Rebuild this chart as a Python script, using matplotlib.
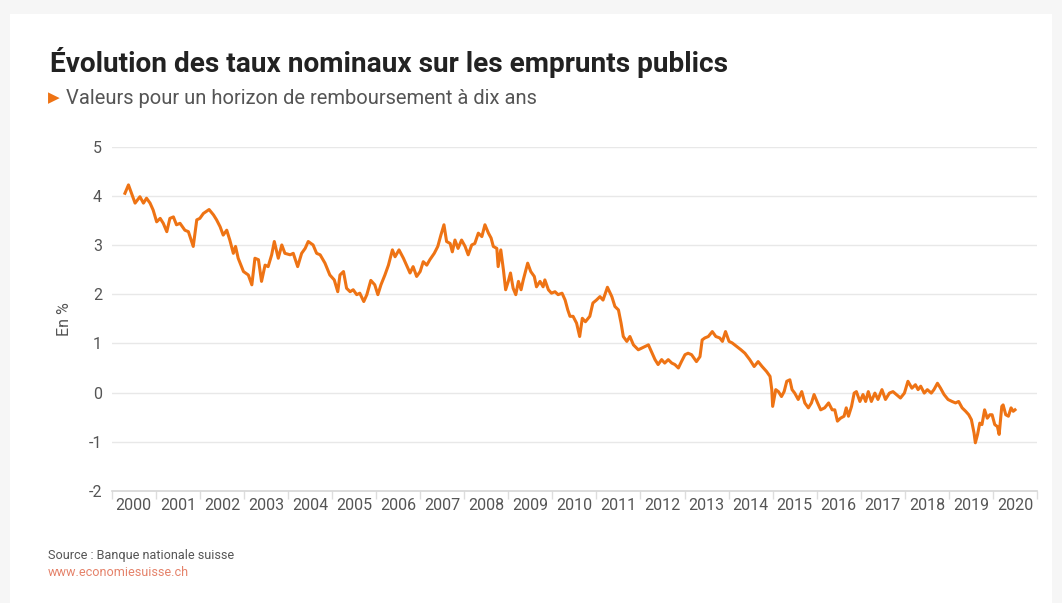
import numpy as np
import matplotlib.pyplot as plt
from matplotlib.patches import Rectangle

# taux à dix ans (lecture approximative du graphique), année décimale / %
annees = [2000.30, 2000.38, 2000.45, 2000.53, 2000.64, 2000.72, 2000.79, 2000.87, 2000.94,
          2001.02, 2001.10, 2001.17, 2001.25, 2001.32, 2001.40, 2001.47, 2001.55, 2001.66,
          2001.74, 2001.85, 2001.93, 2002.00, 2002.08, 2002.21, 2002.31, 2002.38, 2002.46,
          2002.53, 2002.61, 2002.68, 2002.76, 2002.81, 2002.87, 2002.99, 2003.10, 2003.18,
          2003.25, 2003.33, 2003.40, 2003.48, 2003.55, 2003.63, 2003.69, 2003.78, 2003.86,
          2003.93, 2004.05, 2004.12,
          2004.22, 2004.31, 2004.39, 2004.46, 2004.57, 2004.65, 2004.73, 2004.84, 2004.95,
          2005.05, 2005.13, 2005.18, 2005.26, 2005.33, 2005.41, 2005.48, 2005.56, 2005.63,
          2005.72, 2005.79, 2005.88, 2005.97, 2006.04, 2006.11, 2006.20, 2006.28, 2006.37,
          2006.43, 2006.52, 2006.62, 2006.69, 2006.77, 2006.84, 2006.92, 2007.00, 2007.07,
          2007.15, 2007.22, 2007.32, 2007.40, 2007.47, 2007.54, 2007.60, 2007.68, 2007.73,
          2007.79, 2007.86, 2007.94, 2008.02, 2008.09, 2008.17, 2008.24,
          2008.32, 2008.40, 2008.47, 2008.55, 2008.61, 2008.66, 2008.74, 2008.77, 2008.83,
          2008.89, 2008.94, 2009.00, 2009.05, 2009.11, 2009.17, 2009.23, 2009.29, 2009.34,
          2009.39, 2009.44, 2009.51, 2009.59, 2009.64, 2009.72, 2009.79, 2009.83, 2009.91,
          2009.98, 2010.06, 2010.13, 2010.22, 2010.29, 2010.35, 2010.40, 2010.47, 2010.55,
          2010.62, 2010.68, 2010.75, 2010.85, 2010.92, 2011.00, 2011.08, 2011.15, 2011.25,
          2011.35, 2011.42, 2011.50, 2011.56, 2011.61, 2011.69, 2011.76, 2011.84, 2011.95,
          2012.18,
          2012.33, 2012.40, 2012.48, 2012.55, 2012.63, 2012.71, 2012.78, 2012.86, 2012.93,
          2013.01, 2013.08, 2013.16, 2013.27, 2013.35, 2013.40, 2013.46, 2013.54, 2013.63,
          2013.71, 2013.80, 2013.86, 2013.93, 2014.01, 2014.08, 2014.18, 2014.28, 2014.37,
          2014.48, 2014.58, 2014.67, 2014.76, 2014.86, 2014.94, 2014.98, 2015.00, 2015.07,
          2015.13, 2015.20, 2015.26, 2015.32, 2015.39, 2015.44, 2015.50, 2015.58, 2015.66,
          2015.73, 2015.81, 2015.88, 2015.94, 2016.02, 2016.09, 2016.18, 2016.27, 2016.35,
          2016.41,
          2016.47, 2016.54, 2016.62, 2016.67, 2016.72, 2016.79, 2016.85, 2016.90, 2016.98,
          2017.05, 2017.11, 2017.17, 2017.24, 2017.32, 2017.39, 2017.48, 2017.56, 2017.65,
          2017.73, 2017.81, 2017.90, 2017.99, 2018.07, 2018.16, 2018.24, 2018.30, 2018.36,
          2018.44, 2018.51, 2018.60, 2018.66, 2018.74, 2018.81, 2018.89, 2018.98, 2019.07,
          2019.15, 2019.22, 2019.30, 2019.38, 2019.45, 2019.51, 2019.57, 2019.60, 2019.65,
          2019.70, 2019.75, 2019.81, 2019.87, 2019.93, 2019.98, 2020.04, 2020.10, 2020.14,
          2020.20, 2020.23, 2020.29, 2020.35, 2020.41, 2020.46, 2020.50]

taux = [4.05, 4.22, 4.05, 3.85, 3.98, 3.85, 3.95, 3.85, 3.71,
        3.47, 3.54, 3.44, 3.27, 3.54, 3.57, 3.41, 3.44, 3.30,
        3.27, 2.97, 3.51, 3.54, 3.64, 3.72, 3.61, 3.51, 3.37,
        3.20, 3.30, 3.10, 2.83, 2.97, 2.73, 2.46, 2.39, 2.19,
        2.73, 2.70, 2.26, 2.59, 2.56, 2.80, 3.07, 2.73, 3.00,
        2.83, 2.80, 2.83,
        2.56, 2.83, 2.93, 3.07, 3.00, 2.83, 2.80, 2.63, 2.39,
        2.29, 2.05, 2.39, 2.46, 2.12, 2.05, 2.09, 1.99, 2.02,
        1.85, 1.99, 2.28, 2.19, 1.99, 2.19, 2.39, 2.59, 2.90,
        2.76, 2.90, 2.73, 2.59, 2.43, 2.56, 2.36, 2.46, 2.66,
        2.59, 2.70, 2.83, 2.97, 3.20, 3.41, 3.07, 3.03, 2.86,
        3.10, 2.93, 3.10, 2.97, 2.80, 3.00, 3.03,
        3.24, 3.17, 3.41, 3.24, 3.14, 2.97, 2.93, 2.56, 2.90,
        2.49, 2.09, 2.26, 2.43, 2.12, 1.99, 2.26, 2.09, 2.29,
        2.46, 2.63, 2.46, 2.36, 2.15, 2.26, 2.15, 2.29, 2.09,
        2.02, 2.05, 1.99, 2.02, 1.88, 1.68, 1.55, 1.55, 1.41,
        1.14, 1.51, 1.44, 1.55, 1.82, 1.88, 1.95, 1.88, 2.14,
        1.95, 1.75, 1.68, 1.41, 1.14, 1.04, 1.14, 0.97, 0.87,
        0.97,
        0.67, 0.57, 0.67, 0.60, 0.67, 0.60, 0.57, 0.50, 0.63,
        0.77, 0.80, 0.77, 0.63, 0.73, 1.07, 1.11, 1.14, 1.24,
        1.14, 1.11, 1.04, 1.24, 1.04, 1.01, 0.94, 0.87, 0.80,
        0.67, 0.53, 0.63, 0.53, 0.43, 0.33, 0.06, -0.28, 0.06,
        0.02, -0.08, 0.02, 0.23, 0.26, 0.06, -0.01, -0.14, 0.02,
        -0.21, -0.31, -0.21, -0.04, -0.21, -0.35, -0.31, -0.21, -0.35,
        -0.35,
        -0.58, -0.52, -0.48, -0.31, -0.48, -0.28, -0.01, 0.02, -0.18,
        -0.04, -0.18, 0.02, -0.18, -0.01, -0.14, 0.06, -0.14, -0.01,
        0.02, -0.04, -0.11, -0.01, 0.23, 0.09, 0.16, 0.06, 0.13,
        -0.01, 0.06, -0.01, 0.06, 0.19, 0.09, -0.04, -0.14, -0.18,
        -0.21, -0.18, -0.31, -0.38, -0.45, -0.55, -0.82, -1.02, -0.85,
        -0.62, -0.65, -0.35, -0.52, -0.45, -0.45, -0.65, -0.69, -0.85,
        -0.28, -0.25, -0.45, -0.48, -0.31, -0.38, -0.35]

ans = list(range(2000, 2021))
yticks = [-2, -1, 0, 1, 2, 3, 4, 5]

orange = '#ee7314'
gris = '#555555'

plt.rcParams['font.family'] = ['Roboto', 'DejaVu Sans']

fig = plt.figure(figsize=(10.62, 6.03), dpi=100)
fig.patch.set_facecolor('#f6f6f6')
fig.patches.append(Rectangle((10 / 1062, 0), 1042 / 1062, 1 - 14 / 603,
                             transform=fig.transFigure, facecolor='white',
                             edgecolor='none', zorder=-5))

ax = fig.add_axes([0.1052, 0.1857, 0.8713, 0.5713])
ax.set_zorder(2)
ax.set_facecolor('none')
ax.plot(annees, taux, color=orange, linewidth=2.2, solid_joinstyle='round', zorder=3)

ax.set_xlim(2000, 2021)
ax.set_ylim(-2, 5)
ax.set_yticks(yticks)
ax.set_yticklabels([str(v) for v in yticks])
ax.grid(axis='y', color='#e8e8e8', linewidth=1)
ax.tick_params(axis='y', length=0, pad=7, labelsize=11.5, labelcolor=gris)

ax.set_xticks(ans + [2021])
ax.set_xticklabels([])
ax.set_xticks([a + 0.5 for a in ans], minor=True)
ax.set_xticklabels([str(a) for a in ans], minor=True)
ax.tick_params(axis='x', which='major', length=6, color='#dddddd', width=1)
ax.tick_params(axis='x', which='minor', length=0, pad=5, labelsize=11.5, labelcolor=gris)

for s in ['top', 'right', 'left']:
    ax.spines[s].set_visible(False)
ax.spines['bottom'].set_color('#d6d6d6')
ax.spines['bottom'].set_linewidth(1.2)

ax.set_ylabel('En %', color=gris, fontsize=11.5, labelpad=12)

fig.text(50 / 1062, 1 - 62 / 603, 'Évolution des taux nominaux sur les emprunts publics',
         fontsize=20.2, fontweight='bold', color='#222222', va='center', ha='left')
fig.text(48 / 1062, 1 - 98 / 603, '▶', family='DejaVu Sans', fontsize=11,
         color=orange, va='center', ha='left')
fig.text(66 / 1062, 1 - 98 / 603, 'Valeurs pour un horizon de remboursement à dix ans',
         fontsize=14.5, color=gris, va='center', ha='left')

fig.text(48 / 1062, 1 - 555 / 603, 'Source : Banque nationale suisse',
         fontsize=9.1, color=gris, va='center', ha='left')
fig.text(48 / 1062, 1 - 572 / 603, 'www.economiesuisse.ch',
         fontsize=9.1, color='#e5826a', va='center', ha='left')

fig.savefig('out.png', dpi=100, facecolor=fig.get_facecolor())
